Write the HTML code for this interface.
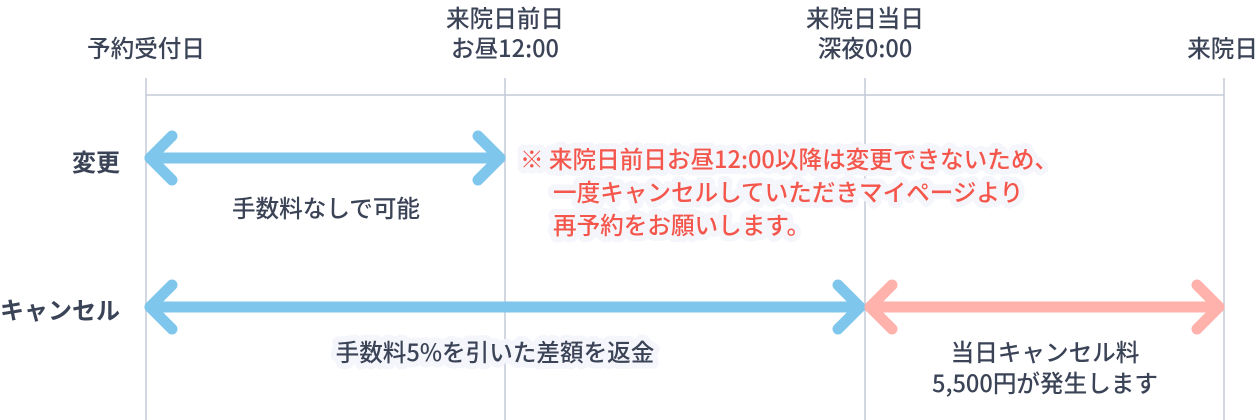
<!DOCTYPE html>
<html><head><meta charset="utf-8"><style>
html,body{margin:0;padding:0;background:#fff;width:1260px;height:420px;overflow:hidden}
text{font-family:"Noto Sans CJK JP","Liberation Sans",sans-serif;font-size:23.6px;font-weight:500;fill:#3b4357}
.h{stroke:#f4f6fb;stroke-width:12px;stroke-linejoin:round;paint-order:stroke}
.r{fill:#f4564c}
.b{font-weight:bold;font-size:24px}
</style></head><body>
<svg width="1260" height="420" xmlns="http://www.w3.org/2000/svg">
<g stroke="#c3cad8" stroke-width="1.5">
<line x1="146" y1="78" x2="146" y2="420"/>
<line x1="505" y1="78" x2="505" y2="420"/>
<line x1="865" y1="78" x2="865" y2="420"/>
<line x1="1224" y1="78" x2="1224" y2="420"/>
<line x1="146" y1="95" x2="1224" y2="95"/>
</g>
<text x="146" y="57" text-anchor="middle">予約受付日</text>
<text x="505" y="27" text-anchor="middle">来院日前日</text>
<text x="505" y="57" text-anchor="middle">お昼12:00</text>
<text x="865" y="27" text-anchor="middle">来院日当日</text>
<text x="865" y="57" text-anchor="middle">深夜0:00</text>
<text x="1258" y="57" text-anchor="end">来院日</text>
<text x="120" y="171" text-anchor="end" class="b">変更</text>
<text x="120" y="319" text-anchor="end" class="b">キャンセル</text>
<g fill="none" stroke-linecap="round" stroke-linejoin="round" stroke-width="11">
<g stroke="#7fc6ec">
<line x1="150" y1="158" x2="500" y2="158"/>
<polyline points="172,136 150,158 172,180"/>
<polyline points="478,136 500,158 478,180"/>
<line x1="150" y1="307" x2="860" y2="307"/>
<polyline points="172,285 150,307 172,329"/>
<polyline points="838,285 860,307 838,329"/>
</g>
<g stroke="#ffb1ac">
<line x1="870" y1="307" x2="1219" y2="307"/>
<polyline points="892,285 870,307 892,329"/>
<polyline points="1197,285 1219,307 1197,329"/>
</g>
</g>
<text x="326" y="217" text-anchor="middle">手数料なしで可能</text>
<text x="520" y="168" class="r h">※ 来院日前日お昼12:00以降は変更できないため、</text>
<text x="553" y="201" class="r h">一度キャンセルしていただきマイページより</text>
<text x="553" y="234" class="r h">再予約をお願いします。</text>
<text x="495" y="361" text-anchor="middle" class="h">手数料5%を引いた差額を返金</text>
<text x="1045" y="361" text-anchor="middle">当日キャンセル料</text>
<text x="1045" y="392" text-anchor="middle">5,500円が発生します</text>
</svg>
</body></html>
